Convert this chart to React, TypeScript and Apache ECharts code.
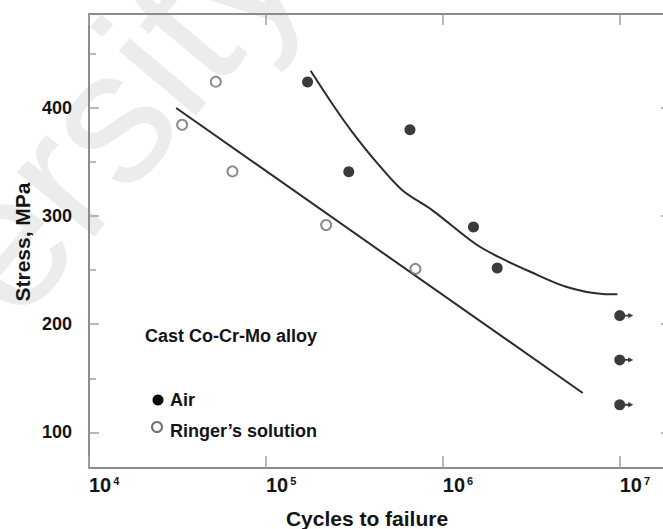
import React, { useEffect, useRef } from "react";
import * as echarts from "echarts";

// ---- data ----
const airPoints: [number, number][] = [
  [1.72e5, 424],
  [2.94e5, 341],
  [6.52e5, 380],
  [1.49e6, 290],
  [2.03e6, 252],
];
const airRunouts: [number, number][] = [
  [1e7, 208],
  [1e7, 167],
  [1e7, 125.5],
];
const ringerPoints: [number, number][] = [
  [3.36e4, 384.5],
  [5.21e4, 424.4],
  [6.47e4, 341.4],
  [2.19e5, 291.8],
  [7.0e5, 251.2],
];
const airCurve: [number, number][] = [
  [1.79e5, 434.5],
  [2.37e5, 404],
  [3.07e5, 378],
  [4.26e5, 349],
  [5.9e5, 324],
  [8.7e5, 305.6],
  [1.54e6, 274],
  [2.08e6, 262],
  [3.08e6, 249],
  [4.97e6, 234.7],
  [8.0e6, 228],
  [9.7e6, 227.7],
];
const ringerLine: [number, number][] = [
  [3.11e4, 400],
  [6.18e6, 136.4],
];
const yLabelValues = [100, 200, 300, 400];
const yMinorValues = [150, 250, 350, 450];
const xMin = 1e4;
const xMax = 2e7;
const yMin = 67;
const yMax = 487;

const FONT = "'Liberation Sans', Arial, Helvetica, sans-serif";
const TXT = "#141414";
const AXIS = "#8c8c8c";
const TICK = "#a0a0a0";

const runoutSymbol =
  "path://M0,5.5A5.5,5.5,0,1,1,11,5.5A5.5,5.5,0,1,1,0,5.5Z M10,4.6H15V6.4H10Z M14,2.8L19,5.5L14,8.2Z";

export default function App() {
  const ref = useRef<HTMLDivElement>(null);
  useEffect(() => {
    if (!ref.current) return;
    const chart = echarts.init(ref.current, undefined, { renderer: "svg" });
    const logFmt = (v: number) => {
      const l = Math.log10(v);
      const e = Math.round(l);
      if (Math.abs(l - e) > 1e-6) return "";
      return `{b|10}{s|${e}}`;
    };
    const option: any = {
      animation: false,
      backgroundColor: "#ffffff",
      grid: { left: 89, top: 14, width: 584, height: 454, containLabel: false },
      xAxis: [
        {
          type: "log",
          logBase: 10,
          min: xMin,
          max: xMax,
          position: "bottom",
          splitLine: { show: false },
          axisLine: { show: true, lineStyle: { color: AXIS, width: 2 } },
          axisTick: { show: true, inside: true, length: 12, lineStyle: { color: TICK, width: 1.5 } },
          minorTick: { show: false },
          axisLabel: {
            show: true,
            align: "left",
            margin: 7,
            formatter: logFmt,
            rich: {
              b: { fontSize: 20, fontWeight: "bold", fontFamily: FONT, color: TXT, lineHeight: 20 },
              s: { fontSize: 11, fontWeight: "bold", fontFamily: FONT, color: TXT, verticalAlign: "top", lineHeight: 12, padding: [0, 0, 0, 2] },
            },
          },
        },
        {
          type: "log",
          logBase: 10,
          min: xMin,
          max: xMax,
          position: "top",
          splitLine: { show: false },
          axisLine: { show: true, lineStyle: { color: AXIS, width: 2 } },
          axisTick: { show: true, inside: true, length: 11, lineStyle: { color: TICK, width: 1.5 } },
          axisLabel: { show: false },
        },
      ],
      yAxis: [
        {
          type: "value",
          min: yMin,
          max: yMax,
          position: "left",
          splitLine: { show: false },
          axisLine: { show: true, lineStyle: { color: AXIS, width: 2 } },
          axisTick: { show: true, inside: true, length: 10, customValues: yLabelValues, lineStyle: { color: TICK, width: 1.5 } },
          axisLabel: {
            show: true,
            customValues: yLabelValues,
            margin: 17,
            fontSize: 18,
            fontWeight: "bold",
            fontFamily: FONT,
            color: TXT,
          },
        },
        {
          type: "value",
          min: yMin,
          max: yMax,
          position: "left",
          splitLine: { show: false },
          axisLine: { show: false },
          axisTick: { show: true, inside: true, length: 7, customValues: yMinorValues, lineStyle: { color: TICK, width: 1.5 } },
          axisLabel: { show: false },
        },
        {
          type: "value",
          min: yMin,
          max: yMax,
          position: "right",
          splitLine: { show: false },
          axisLine: { show: true, lineStyle: { color: AXIS, width: 2 } },
          axisTick: { show: true, inside: true, length: 12, customValues: yLabelValues, lineStyle: { color: TICK, width: 1.5 } },
          axisLabel: { show: false },
        },
      ],
      series: [
        {
          name: "Ringer fit",
          type: "line",
          data: ringerLine,
          showSymbol: false,
          symbol: "none",
          lineStyle: { color: "#2b2b2b", width: 2 },
          z: 3,
        },
        {
          name: "Air fit",
          type: "line",
          data: airCurve,
          smooth: 0.3,
          showSymbol: false,
          symbol: "none",
          lineStyle: { color: "#2b2b2b", width: 2 },
          z: 3,
        },
        {
          name: "Air",
          type: "scatter",
          data: airPoints,
          symbol: "circle",
          symbolSize: 11,
          itemStyle: { color: "#0a0a0a" },
          z: 4,
        },
        {
          name: "Air runout",
          type: "scatter",
          data: airRunouts,
          symbol: runoutSymbol,
          symbolSize: [19, 11],
          symbolOffset: [4, 0],
          itemStyle: { color: "#0a0a0a" },
          z: 4,
        },
        {
          name: "Ringer's solution",
          type: "scatter",
          data: ringerPoints,
          symbol: "circle",
          symbolSize: 10,
          itemStyle: { color: "#ffffff", borderColor: "#707070", borderWidth: 2 },
          z: 4,
        },
      ],
      graphic: [
        {
          type: "text",
          x: -277,
          y: 576,
          rotation: (50 * Math.PI) / 180,
          z: -10,
          silent: true,
          style: {
            text: "University",
            fontSize: 190,
            fontFamily: FONT,
            fill: "#ececec",
            textAlign: "left",
            textVerticalAlign: "middle",
          },
        },
        {
          type: "text",
          x: 367,
          y: 518,
          style: {
            text: "Cycles to failure",
            fontSize: 21,
            fontWeight: "bold",
            fontFamily: FONT,
            fill: TXT,
            textAlign: "center",
            textVerticalAlign: "middle",
          },
        },
        {
          type: "text",
          x: 22,
          y: 242,
          rotation: Math.PI / 2,
          style: {
            text: "Stress, MPa",
            fontSize: 21,
            fontWeight: "bold",
            fontFamily: FONT,
            fill: TXT,
            textAlign: "center",
            textVerticalAlign: "middle",
          },
        },
        {
          type: "text",
          x: 145,
          y: 336,
          style: {
            text: "Cast Co-Cr-Mo alloy",
            fontSize: 18,
            fontWeight: "bold",
            fontFamily: FONT,
            fill: TXT,
            textAlign: "left",
            textVerticalAlign: "middle",
          },
        },
        {
          type: "circle",
          shape: { cx: 158, cy: 400, r: 5.5 },
          style: { fill: "#0a0a0a" },
        },
        {
          type: "text",
          x: 170,
          y: 400,
          style: {
            text: "Air",
            fontSize: 18,
            fontWeight: "bold",
            fontFamily: FONT,
            fill: TXT,
            textAlign: "left",
            textVerticalAlign: "middle",
          },
        },
        {
          type: "circle",
          shape: { cx: 157, cy: 427, r: 5 },
          style: { fill: "#ffffff", stroke: "#707070", lineWidth: 2 },
        },
        {
          type: "text",
          x: 170,
          y: 431,
          style: {
            text: "Ringer\u2019s solution",
            fontSize: 18,
            fontWeight: "bold",
            fontFamily: FONT,
            fill: TXT,
            textAlign: "left",
            textVerticalAlign: "middle",
          },
        },
      ],
    };
    chart.setOption(option);
    return () => chart.dispose();
  }, []);
  return (
    <div style={{ position: "fixed", left: 0, top: 0, width: 663, height: 529, overflow: "hidden", background: "#fff" }}>
      <div ref={ref} style={{ width: 690, height: 529 }} />
    </div>
  );
}
